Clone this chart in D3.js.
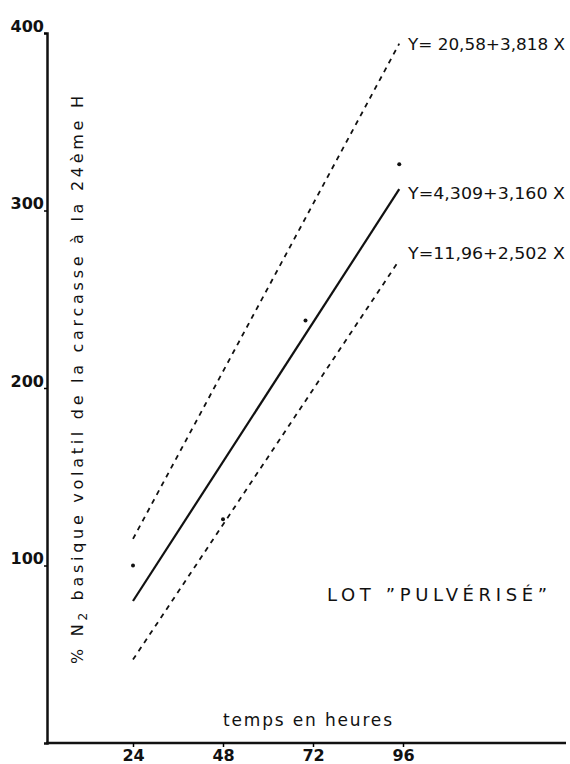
<!DOCTYPE html>
<html>
<head>
<meta charset="utf-8">
<script src="https://cdn.jsdelivr.net/npm/d3@7"></script>
<style>
  body { margin: 0; background: white; }
  svg { display: block; }
</style>
</head>
<body>
<div id="container"></div>
<script>
let w = 570;
let h = 764;

// data
let xTicks = [24, 48, 72, 96];
let yTicks = [100, 200, 300, 400];
let lineNames = ["upper", "fit", "lower"];
let lineX = [24, 95];
let upperY = [115, 394];
let fitY = [80, 312];
let lowerY = [47, 272];
let pointX = [24, 48, 70, 95];
let pointY = [100, 126, 238, 326];
let equations = ["Y= 20,58+3,818 X", "Y=4,309+3,160 X", "Y=11,96+2,502 X"];
let eqY = [394, 310, 276];

let viz = d3.select("#container")
  .append("svg")
  .attr("width", w)
  .attr("height", h)
  .style("background-color", "white");

let xScale = d3.scaleLinear().domain([24, 96]).range([133, 403]);
let yScale = d3.scaleLinear().domain([0, 400]).range([743, 33]);

let font = "'DejaVu Sans', sans-serif";

// y axis
let yAxis = d3.axisLeft(yScale).tickValues(yTicks).tickSize(3).tickPadding(0);
let yG = viz.append("g")
  .attr("transform", "translate(47,0)")
  .call(yAxis);
yG.select(".domain").attr("stroke-width", 2.5).attr("stroke", "#111");
yG.selectAll(".tick line").attr("stroke-width", 1.5);
yG.selectAll(".tick text")
  .attr("font-family", font)
  .attr("font-size", "16px")
  .attr("font-weight", "bold")
  .attr("fill", "#111")
  .attr("dy", "-0.1em");

// x axis
viz.append("line")
  .attr("x1", 46).attr("x2", 566)
  .attr("y1", yScale(0)).attr("y2", yScale(0))
  .attr("stroke", "#111")
  .attr("stroke-width", 2.5);

let xAxis = d3.axisBottom(xScale).tickValues(xTicks).tickSize(4).tickPadding(3);
let xG = viz.append("g")
  .attr("transform", "translate(0," + yScale(0) + ")")
  .call(xAxis);
xG.select(".domain").remove();
xG.selectAll(".tick line").attr("stroke-width", 1.5);
xG.selectAll(".tick text")
  .attr("font-family", font)
  .attr("font-size", "16px")
  .attr("font-weight", "bold")
  .attr("fill", "#111");

// regression lines
let lineData = [upperY, fitY, lowerY];
let line = d3.line()
  .x(function(d, i) { return xScale(lineX[i]); })
  .y(function(d) { return yScale(d); });

viz.selectAll(".regline").data(lineData).enter()
  .append("path")
  .attr("class", function(d, i) { return "regline " + lineNames[i]; })
  .attr("d", line)
  .attr("fill", "none")
  .attr("stroke", "#111")
  .attr("stroke-width", function(d, i) { return i == 1 ? 2.2 : 1.8; })
  .attr("stroke-dasharray", function(d, i) { return i == 1 ? null : "5,5"; });

// observed points
viz.selectAll(".pt").data(pointY).enter()
  .append("circle")
  .attr("class", "pt")
  .attr("cx", function(d, i) { return xScale(pointX[i]); })
  .attr("cy", function(d) { return yScale(d); })
  .attr("r", 2)
  .attr("fill", "#111");

// equations
viz.selectAll(".eq").data(equations).enter()
  .append("text")
  .attr("class", "eq")
  .text(function(d) { return d; })
  .attr("x", 408)
  .attr("y", function(d, i) { return yScale(eqY[i]) + 6; })
  .attr("font-family", font)
  .attr("font-size", "16.5px")
  .attr("textLength", 157)
  .attr("lengthAdjust", "spacingAndGlyphs")
  .attr("fill", "#111");

viz.append("text")
  .text("LOT \u201DPULVÉRISÉ\u201D")
  .attr("x", 327)
  .attr("y", 601)
  .attr("font-family", font)
  .attr("font-size", "18px")
  .attr("textLength", 220)
  .attr("lengthAdjust", "spacing")
  .attr("fill", "#111");

viz.append("text")
  .text("temps en heures")
  .attr("x", 223)
  .attr("y", 726)
  .attr("font-family", font)
  .attr("font-size", "17px")
  .attr("textLength", 169)
  .attr("lengthAdjust", "spacing")
  .attr("fill", "#111");

// rotated y label
let yLab = viz.append("text")
  .attr("transform", "translate(83,664) rotate(-90)")
  .attr("font-family", font)
  .attr("font-size", "16px")
  .attr("fill", "#111")
  .attr("textLength", 568)
  .attr("lengthAdjust", "spacing");
yLab.append("tspan").text("% N");
yLab.append("tspan").text("2").attr("font-size", "12px").attr("dy", 4);
yLab.append("tspan").text("  basique  volatil  de  la  carcasse  à  la  24ème  H").attr("dy", -4);
</script>
</body>
</html>
